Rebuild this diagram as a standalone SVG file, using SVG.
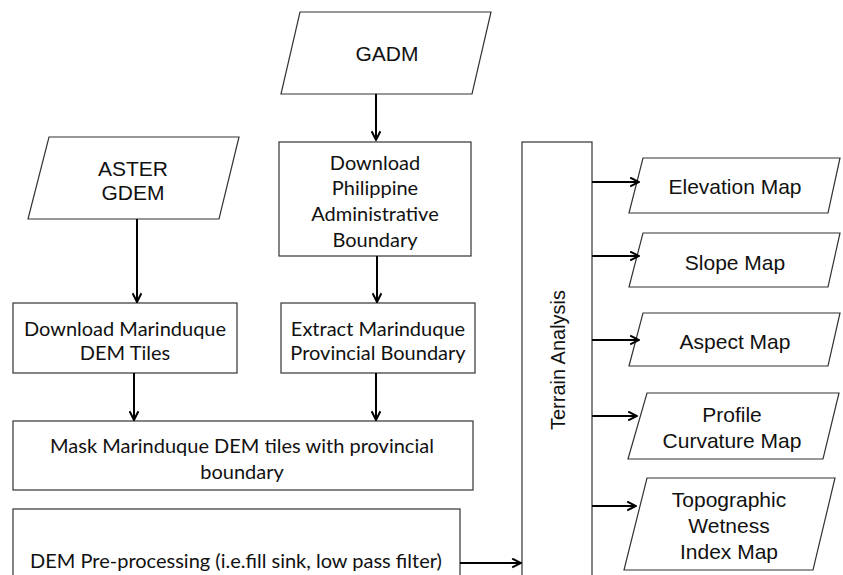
<svg xmlns="http://www.w3.org/2000/svg" width="843" height="575" viewBox="0 0 843 575">
<defs>
<marker id="arr" viewBox="0 0 10 10" refX="9" refY="5" markerWidth="11" markerHeight="11" markerUnits="userSpaceOnUse" orient="auto">
<path d="M1,1 L9,5 L1,9" fill="none" stroke="#000" stroke-width="1.8"/>
</marker>
<style>
.box{fill:#fff;stroke:#333;stroke-width:1.2}
.a{font-family:"Liberation Sans",Arial,sans-serif;font-size:21px;fill:#111;text-anchor:middle}
.c{font-family:Lato,"Open Sans",sans-serif;font-size:20px;fill:#111;text-anchor:middle}
.ln{stroke:#000;stroke-width:2;fill:none;marker-end:url(#arr)}
</style>
</defs>
<rect width="843" height="575" fill="#fff"/>
<g id="gadm">
<polygon class="box" points="300,12 491,12 472,94 281,94"/>
<text class="a" x="387" y="61">GADM</text>
</g>
<g id="aster">
<polygon class="box" points="49,137 239,137 219,219 28,219"/>
<text class="a" x="133" y="176">ASTER</text>
<text class="a" x="133" y="200">GDEM</text>
</g>
<g id="download-ph">
<rect class="box" x="279" y="142" width="192" height="114"/>
<text class="c" x="375" y="170">Download</text>
<text class="c" x="375" y="195">Philippine</text>
<text class="c" x="375" y="221">Administrative</text>
<text class="c" x="375" y="247">Boundary</text>
</g>
<g id="download-dem">
<rect class="box" x="13" y="303" width="224" height="70"/>
<text class="c" x="125" y="336">Download Marinduque</text>
<text class="c" x="125" y="360">DEM Tiles</text>
</g>
<g id="extract">
<rect class="box" x="281" y="303" width="194" height="70"/>
<text class="c" x="378" y="336">Extract Marinduque</text>
<text class="c" x="378" y="360">Provincial Boundary</text>
</g>
<g id="mask">
<rect class="box" x="13" y="421" width="460" height="69"/>
<text class="c" x="242" y="453">Mask Marinduque DEM tiles with provincial</text>
<text class="c" x="242" y="479">boundary</text>
</g>
<g id="preproc">
<rect class="box" x="13" y="509" width="447" height="80"/>
<text class="c" x="236" y="568">DEM Pre-processing (i.e.fill sink, low pass filter)</text>
</g>
<g id="terrain">
<rect class="box" x="522" y="142" width="70" height="450"/>
<text class="a" style="font-size:20px" transform="translate(565,360) rotate(-90)">Terrain Analysis</text>
</g>
<g id="elevation">
<polygon class="box" points="643,158 840,158 828,213 629,213"/>
<text class="a" x="735" y="194">Elevation Map</text>
</g>
<g id="slope">
<polygon class="box" points="643,233 840,233 828,287 629,287"/>
<text class="a" x="735" y="270">Slope Map</text>
</g>
<g id="aspect">
<polygon class="box" points="643,313 840,313 828,366 629,366"/>
<text class="a" x="735" y="349">Aspect Map</text>
</g>
<g id="profile">
<polygon class="box" points="647,393 839,393 823,459 628,459"/>
<text class="a" x="732" y="422">Profile</text>
<text class="a" x="732" y="448">Curvature Map</text>
</g>
<g id="twi">
<polygon class="box" points="647,478 835,478 813,570 624,570"/>
<text class="a" x="729" y="507">Topographic</text>
<text class="a" x="729" y="533">Wetness</text>
<text class="a" x="729" y="559">Index Map</text>
</g>
<g id="connectors">
<line class="ln" x1="376" y1="94" x2="376" y2="140"/>
<line class="ln" x1="137" y1="219" x2="137" y2="302"/>
<line class="ln" x1="377" y1="256" x2="377" y2="302"/>
<line class="ln" x1="134" y1="373" x2="134" y2="420"/>
<line class="ln" x1="376" y1="373" x2="376" y2="420"/>
<line class="ln" x1="460" y1="563" x2="521" y2="563"/>
<line class="ln" x1="592" y1="182" x2="639" y2="182"/>
<line class="ln" x1="592" y1="256" x2="639" y2="256"/>
<line class="ln" x1="592" y1="340" x2="639" y2="340"/>
<line class="ln" x1="592" y1="416" x2="637" y2="416"/>
<line class="ln" x1="592" y1="506" x2="636" y2="506"/>
</g>
</svg>
